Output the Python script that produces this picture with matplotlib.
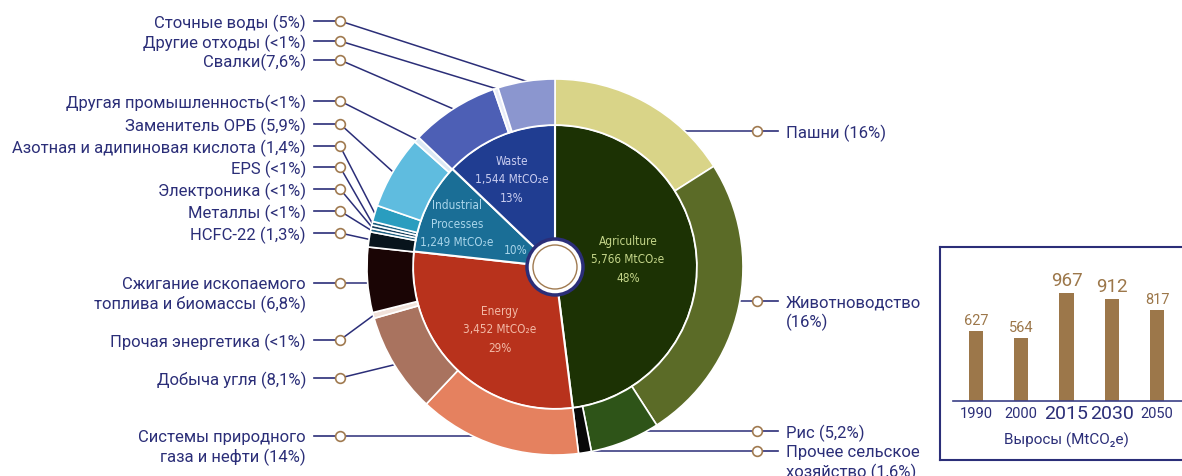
import numpy as np
import matplotlib.pyplot as plt
from matplotlib.patches import Circle

plt.rcParams['font.family'] = ['Roboto', 'DejaVu Sans']

W, H = 1182, 476

# inner ring: sectors (MtCO2e)
inner_names = ["Agriculture", "Energy", "Industrial\nProcesses", "Waste"]
inner_mt = [5766, 3452, 1249, 1544]
inner_pct = ["48%", "29%", "10%", "13%"]

# outer ring: sub-sources, share of total (%) as drawn
outer_labels = [
    "Пашни (16%)", "Животноводство\n(16%)", "Рис (5,2%)", "Прочее сельское\nхозяйство (1,6%)",
    "Системы природного\nгаза и нефти (14%)", "Добыча угля (8,1%)", "Прочая энергетика (<1%)",
    "Сжигание ископаемого\nтоплива и биомассы (6,8%)",
    "HCFC-22 (1,3%)", "Металлы (<1%)", "Электроника (<1%)", "EPS (<1%)",
    "Азотная и адипиновая кислота (1,4%)", "Заменитель ОРБ (5,9%)", "Другая промышленность(<1%)",
    "Свалки(7,6%)", "Другие отходы (<1%)", "Сточные воды (5%)",
]
outer_share = [16.0, 24.9, 6.0, 1.1,
               14.0, 8.6, 0.5, 5.6,
               1.3, 0.3, 0.3, 0.3, 1.4, 6.3, 0.5,
               7.6, 0.4, 4.9]

# inset bars
years = ["1990", "2000", "2015", "2030", "2050"]
growth = [627, 564, 967, 912, 817]

# colours
inner_colors = ["#1c3204", "#b8321c", "#1a6e96", "#203d91"]
inner_text_colors = ["#c5d68a", "#f2b9a6", "#a9d5ea", "#c9cdf0"]
outer_colors = ["#d9d488", "#5b6b27", "#2e5418", "#080808",
                "#e5815f", "#a9735f", "#f1e2da", "#1a0505",
                "#08141c", "#1d5f80", "#153c5a", "#1d5f80", "#2a9dbf", "#5fbcdf", "#dbe9f4",
                "#4d5fb5", "#e8ecf8", "#8b96cf"]
navy = "#2b2e78"
brown = "#a07a50"
bar_color = "#9c774a"

fig = plt.figure(figsize=(W / 100, H / 100), dpi=100)
ax = fig.add_axes([0, 0, 1, 1])

cx, cy = 555, H - 267
R_in, R_out = 142, 188

ax.pie(inner_mt, radius=R_in, center=(cx, cy), startangle=90, counterclock=False,
       colors=inner_colors, frame=True,
       wedgeprops=dict(edgecolor="white", linewidth=1.5))
outer_wedges, _ = ax.pie(outer_share, radius=R_out, center=(cx, cy), startangle=90,
                         counterclock=False, colors=outer_colors, frame=True,
                         wedgeprops=dict(width=R_out - R_in, edgecolor="white", linewidth=1.2))

# centre hole
ax.add_patch(Circle((cx, cy), 28, facecolor="white", edgecolor=navy, lw=2.5, zorder=6))
ax.add_patch(Circle((cx, cy), 22, facecolor="none", edgecolor=brown, lw=1, zorder=7))

# inner texts
inner_font = dict(family="DejaVu Sans", stretch="condensed", fontsize=8.5)
inner_pos = [(628, 260), (500, 330), (457, 224), (512, 180)]
for i, name in enumerate(inner_names):
    x, y = inner_pos[i]
    txt = f"{name}\n{inner_mt[i]:,} MtCO₂e"
    if i != 2:
        txt += f"\n{inner_pct[i]}"
    ax.text(x, H - y, txt, ha="center", va="center", linespacing=1.55,
            color=inner_text_colors[i], zorder=8, **inner_font)
ax.text(516, H - 251, inner_pct[2], ha="center", va="center",
        color=inner_text_colors[2], zorder=8, **inner_font)

# outer labels with leader lines
label_y = [131, 301, 431, 451, 436, 378, 340, 283, 233, 211, 189, 167, 146, 124, 101, 60, 41, 21]
straight = {0, 1, 2, 3, 4, 7}
for i, lab in enumerate(outer_labels):
    yi = H - label_y[i]
    right = i < 4
    w = outer_wedges[i]
    if i in straight:
        dy = yi - cy
        dx = np.sqrt(R_out ** 2 - dy ** 2)
        tx, ty = (cx + dx if right else cx - dx), yi
    else:
        a = np.deg2rad((w.theta1 + w.theta2) / 2)
        tx, ty = cx + R_out * np.cos(a), cy + R_out * np.sin(a)
    if right:
        mx = 757
        ax.plot([mx, 778], [yi, yi], color=navy, lw=1.2, zorder=4)
        tx0, ha = 786, "left"
    else:
        mx = 340
        ax.plot([314, mx], [yi, yi], color=navy, lw=1.2, zorder=4)
        tx0, ha = 306, "right"
    ax.plot([mx, tx], [yi, ty], color=navy, lw=1.1, zorder=0.5)
    ax.plot(mx, yi, "o", ms=7, mfc="white", mec=brown, mew=1.2, zorder=5)
    for k, line in enumerate(lab.split("\n")):
        ax.text(tx0, yi - k * 19.5, line, ha=ha, va="center_baseline", fontsize=12, color=navy)

ax.set_xlim(0, W)
ax.set_ylim(0, H)
ax.set_aspect("equal")
ax.axis("off")

# inset bar chart
px_unit = 0.1117
axb = fig.add_axes([940 / W, 16 / H, 260 / W, 213 / H])
xpos = np.arange(len(years))
axb.bar(xpos, growth, width=0.31, color=bar_color, zorder=2)
axb.set_xlim(-36 / 45.25, 224 / 45.25)
axb.set_ylim(-59 / px_unit, 154 / px_unit)
axb.axhline(0, xmin=13 / 260, color="#3b3f86", lw=1.2, zorder=3)
big = [False, False, True, True, False]
for i, v in enumerate(growth):
    axb.text(xpos[i], v + 25, str(v), ha="center", va="bottom",
             fontsize=13.5 if big[i] else 10.5, color=bar_color)
    axb.text(xpos[i], -13 / px_unit, years[i], ha="center", va="center",
             fontsize=14 if big[i] else 10.5, color=navy)
axb.text(2.0, -39 / px_unit, "Выросы (MtCO₂e)", ha="center", va="center", fontsize=11, color=navy)
axb.set_xticks([])
axb.set_yticks([])
for s in axb.spines.values():
    s.set_color(navy)
    s.set_linewidth(1.5)

fig.savefig("out.png", dpi=100)
